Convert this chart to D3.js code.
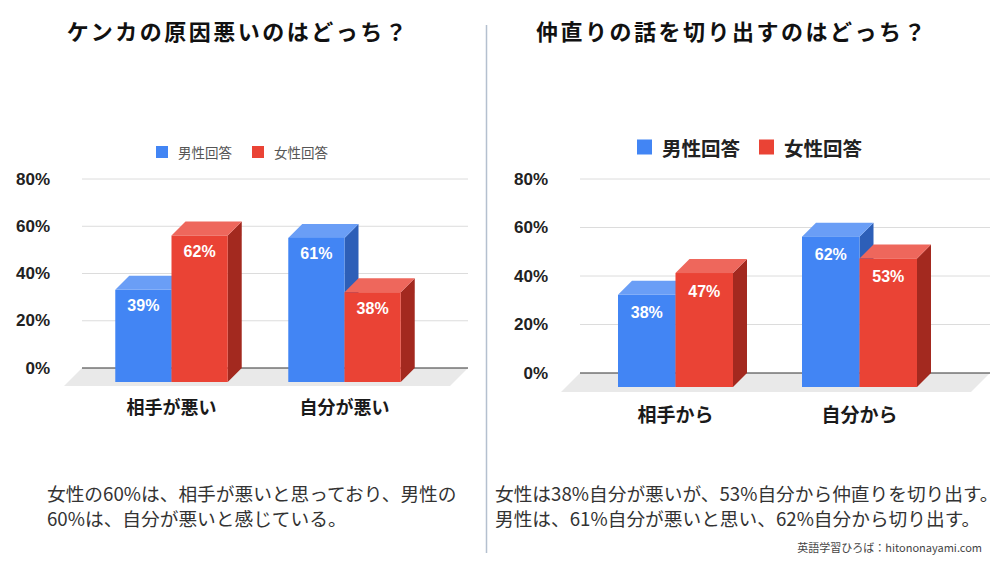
<!DOCTYPE html>
<html>
<head>
<meta charset="utf-8">
<script src="https://cdn.jsdelivr.net/npm/d3@7"></script>
<style>
  body { margin: 0; background: #fff; }
  text { font-family: "Noto Sans CJK JP", sans-serif; }
  .num { font-family: "Liberation Sans", Arial, "Noto Sans CJK JP", sans-serif; }
</style>
</head>
<body>
<div id="target"></div>
<script>
const seriesNames = ["男性回答", "女性回答"];
const yTicks = [0, 20, 40, 60, 80];

const leftTitle = "ケンカの原因悪いのはどっち？";
const leftCategories = ["相手が悪い", "自分が悪い"];
const leftMale = [39, 61];
const leftFemale = [62, 38];
const leftNote = ["女性の60%は、相手が悪いと思っており、男性の", "60%は、自分が悪いと感じている。"];

const rightTitle = "仲直りの話を切り出すのはどっち？";
const rightCategories = ["相手から", "自分から"];
const rightMale = [38, 62];
const rightFemale = [47, 53];
const rightNote = ["女性は38%自分が悪いが、53%自分から仲直りを切り出す。", "男性は、61%自分が悪いと思い、62%自分から切り出す。"];

const credit = "英語学習ひろば：hitononayami.com";

const width = 1000,
  height = 563;

const colors = {
  front: ["#4285f4", "#ea4335"],
  top: ["#6a9ef6", "#ee675c"],
  side: ["#2d5fb8", "#a3291f"]
};

const svg = d3.select("#target")
  .append("svg")
  .attr("width", width)
  .attr("height", height);

svg.append("rect")
  .attr("width", width)
  .attr("height", height)
  .attr("fill", "#fff");

// divider between the two panels
svg.append("line")
  .attr("x1", 486.5).attr("x2", 486.5)
  .attr("y1", 25).attr("y2", 553)
  .attr("stroke", "#b4c0cf")
  .attr("stroke-width", 1.5);

function drawPanel(opt) {
  const g = svg.append("g");
  const depth = opt.depth;

  g.append("text")
    .attr("x", opt.titleX)
    .attr("y", 30)
    .attr("text-anchor", "middle")
    .attr("dominant-baseline", "central")
    .attr("font-size", 22)
    .attr("font-weight", "bold")
    .attr("letter-spacing", 2.5)
    .attr("fill", "#111")
    .text(opt.title);

  const y = d3.scaleLinear()
    .domain([0, 80])
    .range([opt.y0, opt.y80]);

  const x = d3.scaleBand()
    .domain(opt.categories)
    .range(opt.xRange)
    .paddingInner(opt.padInner)
    .paddingOuter(opt.padInner / 2);

  const xs = d3.scaleBand()
    .domain(seriesNames)
    .range([0, x.bandwidth()]);

  // floor
  g.append("path")
    .attr("d", `M${opt.gridX[0]},${y(0)} L${opt.gridX[1]},${y(0)} L${opt.gridX[1] - opt.floor},${y(0) + opt.floor} L${opt.gridX[0] - opt.floor},${y(0) + opt.floor}Z`)
    .attr("fill", "#e9e9e9");

  // gridlines
  g.append("g")
    .selectAll("line")
    .data(yTicks.filter((d) => d > 0))
    .enter()
    .append("line")
    .attr("x1", opt.gridX[0])
    .attr("x2", opt.gridX[1])
    .attr("y1", (d) => y(d))
    .attr("y2", (d) => y(d))
    .attr("stroke", "#dcdcdc");

  g.append("line")
    .attr("x1", opt.gridX[0])
    .attr("x2", opt.gridX[1])
    .attr("y1", y(0))
    .attr("y2", y(0))
    .attr("stroke", "#333")
    .attr("stroke-width", 1.2);

  // tick labels
  g.append("g")
    .selectAll("text")
    .data(yTicks)
    .enter()
    .append("text")
    .attr("class", "num")
    .attr("x", opt.tickX)
    .attr("y", (d) => y(d))
    .attr("text-anchor", "end")
    .attr("dominant-baseline", "central")
    .attr("font-size", 17)
    .attr("font-weight", "bold")
    .attr("fill", "#222")
    .text((d) => d + "%");

  // legend
  const legend = g.append("g")
    .selectAll("g")
    .data(seriesNames)
    .enter()
    .append("g")
    .attr("transform", (d, i) => `translate(${opt.legendX[i]},${opt.legendY})`);

  legend.append("rect")
    .attr("x", 0)
    .attr("y", -opt.legendBox / 2)
    .attr("width", opt.legendBox)
    .attr("height", opt.legendBox)
    .attr("fill", (d, i) => colors.front[i]);

  legend.append("text")
    .attr("x", opt.legendBox + opt.legendGap)
    .attr("y", 0)
    .attr("dominant-baseline", "central")
    .attr("font-size", opt.legendFont)
    .attr("font-weight", opt.legendWeight)
    .attr("fill", opt.legendColor)
    .text((d) => d);

  // 3D bars
  const bars = [];
  opt.categories.forEach((c, ci) => {
    seriesNames.forEach((s, si) => {
      bars.push({ cat: c, series: s, si: si, value: opt.values[si][ci] });
    });
  });

  const bar = g.append("g")
    .selectAll("g")
    .data(bars)
    .enter()
    .append("g");

  const w = xs.bandwidth();
  const fx = (d) => x(d.cat) + xs(d.series);

  bar.append("path")
    .attr("d", (d) => {
      const x0 = fx(d), yb = y(d.value), yf = yb + depth;
      return `M${x0 + w},${yf} L${x0 + w + depth},${yb} L${x0 + w + depth},${y(0)} L${x0 + w},${y(0) + depth}Z`;
    })
    .attr("fill", (d) => colors.side[d.si]);

  bar.append("path")
    .attr("d", (d) => {
      const x0 = fx(d), yb = y(d.value), yf = yb + depth;
      return `M${x0},${yf} L${x0 + depth},${yb} L${x0 + w + depth},${yb} L${x0 + w},${yf}Z`;
    })
    .attr("fill", (d) => colors.top[d.si]);

  bar.append("rect")
    .attr("x", (d) => fx(d))
    .attr("y", (d) => y(d.value) + depth)
    .attr("width", w)
    .attr("height", (d) => y(0) - y(d.value))
    .attr("fill", (d) => colors.front[d.si]);

  bar.append("text")
    .attr("class", "num")
    .attr("x", (d) => fx(d) + w / 2)
    .attr("y", (d) => y(d.value) + depth + opt.labelOffset)
    .attr("text-anchor", "middle")
    .attr("dominant-baseline", "central")
    .attr("font-size", 16)
    .attr("font-weight", "bold")
    .attr("fill", "#fff")
    .text((d) => d.value + "%");

  // category labels
  g.append("g")
    .selectAll("text")
    .data(opt.categories)
    .enter()
    .append("text")
    .attr("x", (d) => x(d) + x.bandwidth() / 2)
    .attr("y", opt.catY)
    .attr("text-anchor", "middle")
    .attr("dominant-baseline", "central")
    .attr("font-size", opt.catFont)
    .attr("font-weight", "bold")
    .attr("fill", "#1a1a1a")
    .text((d) => d);

  // note under the chart
  g.append("g")
    .selectAll("text")
    .data(opt.note)
    .enter()
    .append("text")
    .attr("x", opt.noteX)
    .attr("y", (d, i) => 492 + i * 25)
    .attr("dominant-baseline", "central")
    .attr("font-size", 18.7)
    .attr("fill", "#333")
    .text((d) => d);
}

drawPanel({
  title: leftTitle,
  titleX: 238,
  categories: leftCategories,
  values: [leftMale, leftFemale],
  note: leftNote,
  noteX: 47,
  y0: 368,
  y80: 179,
  depth: 14,
  floor: 18,
  xRange: [85, 431],
  padInner: 0.35,
  gridX: [82, 468],
  tickX: 50,
  legendX: [156, 252],
  legendY: 152,
  legendBox: 12,
  legendGap: 10,
  legendFont: 13.5,
  legendWeight: "normal",
  legendColor: "#555",
  labelOffset: 16,
  catY: 406,
  catFont: 18
});

drawPanel({
  title: rightTitle,
  titleX: 732,
  categories: rightCategories,
  values: [rightMale, rightFemale],
  note: rightNote,
  noteX: 495,
  y0: 373,
  y80: 179,
  depth: 14,
  floor: 19,
  xRange: [583.5, 951.5],
  padInner: 0.375,
  gridX: [580, 990],
  tickX: 548,
  legendX: [637, 759],
  legendY: 147,
  legendBox: 15,
  legendGap: 10,
  legendFont: 19.5,
  legendWeight: "bold",
  legendColor: "#222",
  labelOffset: 18,
  catY: 413,
  catFont: 19
});

svg.append("text")
  .attr("x", 982)
  .attr("y", 547)
  .attr("text-anchor", "end")
  .attr("dominant-baseline", "central")
  .attr("font-size", 11)
  .attr("fill", "#444")
  .text(credit);
</script>
</body>
</html>
